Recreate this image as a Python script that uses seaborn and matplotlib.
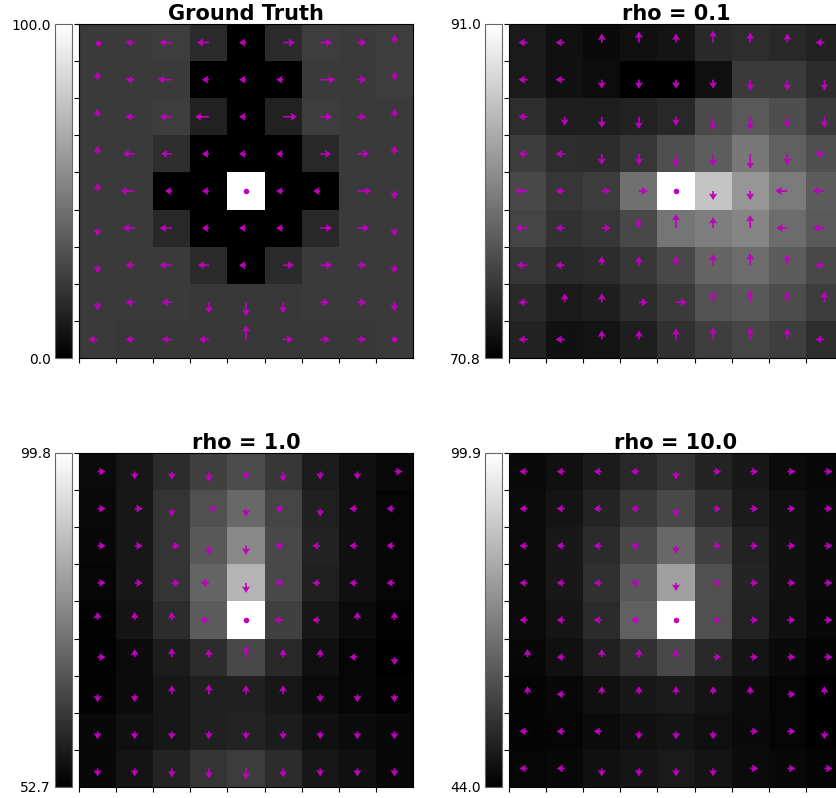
import numpy as np
import pandas as pd
import matplotlib
matplotlib.use("Agg")
import matplotlib.pyplot as plt
import seaborn as sns

titles = ["Ground Truth", "rho = 0.1", "rho = 1.0", "rho = 10.0"]

# cell values (row 0 = top row of the grid)
gt_values = [
    [23, 23, 24, 17, 0, 17, 24, 23, 24],
    [23, 23, 23, 0, 0, 0, 23, 23, 24],
    [23, 23, 24, 13, 0, 13, 24, 23, 23],
    [23, 23, 18, 0, 0, 0, 16, 23, 23],
    [23, 23, 0, 0, 100, 0, 0, 23, 23],
    [23, 23, 16, 0, 0, 0, 16, 23, 23],
    [23, 23, 23, 17, 0, 17, 23, 23, 23],
    [23, 23, 23, 22, 22, 22, 23, 23, 23],
    [23, 22, 22, 22, 22, 22, 22, 22, 23],
]
rho01_values = [
    [72.9, 72.1, 71.6, 72.1, 72.4, 74.1, 74.4, 74.0, 73.5],
    [72.9, 72.1, 71.8, 70.8, 70.8, 72.1, 75.4, 75.4, 74.3],
    [74.4, 73.2, 73.2, 73.5, 74.0, 76.7, 77.9, 77.0, 75.4],
    [75.6, 74.4, 74.3, 75.1, 77.1, 78.2, 80.3, 78.4, 77.1],
    [76.5, 75.1, 75.6, 79.7, 91.0, 86.3, 82.7, 80.5, 78.1],
    [76.2, 74.8, 75.1, 76.5, 80.1, 80.8, 81.3, 79.4, 77.9],
    [75.1, 74.1, 74.3, 75.2, 76.5, 78.7, 79.4, 78.1, 76.5],
    [74.1, 73.0, 73.3, 74.3, 75.4, 77.3, 77.8, 76.8, 75.6],
    [73.5, 72.2, 72.4, 73.2, 74.6, 75.7, 76.3, 75.7, 74.4],
]
rho1_values = [
    [54.9, 57.1, 60.8, 64.5, 66.7, 63.0, 57.9, 55.7, 54.5],
    [54.5, 57.1, 62.3, 67.5, 71.9, 65.3, 58.6, 55.7, 53.8],
    [54.2, 57.1, 62.3, 69.0, 77.8, 66.0, 59.0, 55.7, 53.8],
    [53.8, 57.1, 62.3, 71.2, 85.9, 66.0, 58.6, 55.7, 53.8],
    [53.4, 56.4, 60.8, 69.7, 99.8, 64.5, 57.1, 54.9, 53.4],
    [53.1, 54.9, 57.9, 60.8, 66.0, 60.1, 55.7, 53.8, 52.7],
    [53.4, 54.9, 57.1, 58.6, 58.6, 57.1, 54.9, 53.8, 53.1],
    [54.2, 55.7, 57.1, 58.6, 59.3, 57.9, 55.7, 54.9, 54.2],
    [54.2, 56.4, 59.3, 62.3, 63.8, 60.8, 57.1, 55.7, 54.2],
]
rho10_values = [
    [46.2, 47.5, 50.1, 52.8, 55.4, 51.9, 49.3, 46.6, 45.8],
    [46.6, 48.4, 51.9, 56.3, 59.8, 54.5, 50.1, 47.5, 46.2],
    [46.6, 49.3, 53.6, 59.8, 66.8, 58.0, 51.5, 47.9, 46.2],
    [46.6, 49.3, 54.5, 63.3, 79.1, 61.5, 51.9, 47.9, 46.2],
    [46.6, 48.8, 53.6, 65.0, 99.9, 61.5, 51.5, 47.5, 45.8],
    [45.8, 47.5, 51.0, 54.5, 59.8, 52.8, 48.4, 46.2, 44.9],
    [44.9, 45.8, 47.5, 49.3, 50.1, 48.4, 46.6, 45.3, 44.0],
    [44.9, 45.3, 46.6, 47.9, 48.4, 47.5, 46.2, 45.3, 44.4],
    [45.3, 45.8, 47.5, 48.8, 49.7, 48.4, 46.6, 45.8, 44.9],
]

# policy actions: L/R/U/D, o = stay
gt_actions = ["oLLLLRRRU", "ULLLLLRRU", "ULLLLRRRU", "ULLLLLRRU", "ULLLoLLRD",
              "DLLLLLRRD", "DLLLLRRRD", "DLLDDDRRD", "LLLLURRRo"]
rho01_actions = ["LLUUUUUUL", "LLDDDDDDD", "LDDDDDDDD", "LLDDDDDDL", "LLRRoDDLL",
                 "LLRUUUULL", "LLUUUUUUL", "LUURRUUUU", "LLUUUUUUL"]
rho1_actions = ["RDDDDDDDR", "RRDRDLDLL", "RRRDDLLLL", "RRRLDLLLL", "UUULoLLUU",
                "RUUUUUULD", "DDUUUUDDD", "DDDDDDDDD", "DDDDDDDDD"]
rho10_actions = ["LLLLDRRRR", "LLLLDRRRR", "LLLLDRRRR", "LLLLDRRRR", "LLLLoRRRR",
                 "ULUUURRRR", "ULUUUUURU", "LLLDDDRRD", "LLDDDDRRR"]

# arrow magnitudes
gt_mag = [
    [0, 9, 12, 12, 7, 12, 12, 9, 8],
    [8, 9, 14, 7, 7, 7, 15, 9, 8],
    [8, 9, 12, 14, 7, 14, 12, 9, 8],
    [8, 12, 11, 7, 7, 7, 11, 12, 8],
    [8, 14, 7, 7, 0, 7, 7, 14, 8],
    [8, 12, 12, 7, 7, 7, 12, 12, 8],
    [8, 9, 12, 11, 7, 11, 12, 9, 8],
    [8, 9, 10, 11, 14, 11, 9, 9, 9],
    [9, 9, 10, 10, 14, 10, 10, 9, 0],
]
rho01_mag = [
    [9, 9, 9, 11, 9, 12, 10, 9, 9],
    [9, 9, 9, 9, 9, 9, 11, 11, 11],
    [9, 9, 11, 12, 9, 13, 13, 11, 11],
    [9, 9, 11, 11, 13, 12, 15, 11, 9],
    [12, 9, 9, 9, 0, 9, 9, 12, 12],
    [12, 9, 9, 9, 14, 11, 13, 11, 11],
    [11, 9, 9, 9, 9, 11, 12, 11, 9],
    [9, 9, 9, 9, 11, 11, 12, 11, 11],
    [9, 9, 9, 9, 11, 12, 12, 11, 9],
]
rho1_mag = [
    [8, 8, 8, 10, 8, 10, 8, 8, 8],
    [8, 8, 8, 8, 8, 8, 8, 8, 8],
    [8, 8, 8, 9, 9, 8, 8, 8, 8],
    [8, 8, 8, 8, 10, 8, 8, 8, 8],
    [8, 8, 8, 9, 0, 9, 8, 8, 8],
    [8, 8, 9, 8, 11, 8, 8, 8, 8],
    [8, 8, 9, 10, 9, 9, 8, 8, 8],
    [8, 8, 8, 8, 8, 8, 8, 8, 8],
    [8, 8, 9, 10, 11, 9, 8, 8, 8],
]
rho10_mag = [[8] * 9 for _ in range(9)]
rho10_mag[4][4] = 0

panels = [
    (titles[0], gt_values, gt_actions, gt_mag),
    (titles[1], rho01_values, rho01_actions, rho01_mag),
    (titles[2], rho1_values, rho1_actions, rho1_mag),
    (titles[3], rho10_values, rho10_actions, rho10_mag),
]

W, H = 837, 798
fig = plt.figure(figsize=(W / 100, H / 100), dpi=100)


def rect(left, top, w, h):
    return [left / W, 1 - (top + h) / H, w / W, h / H]


corners = [(79, 24), (509, 24), (79, 453), (509, 453)]
step = {"L": (-1, 0), "R": (1, 0), "U": (0, -1), "D": (0, 1), "o": (0, 0)}

for (title, values, actions, mag), (x0, y0) in zip(panels, corners):
    ax = fig.add_axes(rect(x0, y0, 334, 334))
    cax = fig.add_axes(rect(x0 - 24, y0, 17, 334))
    df = pd.DataFrame(values)
    vmin, vmax = df.values.min(), df.values.max()
    sns.heatmap(df, ax=ax, cbar_ax=cax, cmap="gray", vmin=vmin, vmax=vmax,
                xticklabels=False, yticklabels=False)

    # policy arrows from each cell centre
    n = df.shape[0]
    X, Y = np.meshgrid(np.arange(n) + 0.5, np.arange(n) + 0.5)
    U = np.array([[step[a][0] for a in row] for row in actions]) * np.array(mag)
    V = np.array([[step[a][1] for a in row] for row in actions]) * np.array(mag)
    moving = np.array([[a != "o" for a in row] for row in actions])
    ax.quiver(X[moving], Y[moving], U[moving], V[moving], color="m",
              angles="xy", scale_units="xy", scale=37.1, pivot="tail",
              units="dots", width=1.7, headwidth=4.8, headlength=3.8,
              headaxislength=3.3, zorder=3)
    ax.scatter(X[~moving], Y[~moving], s=16, color="m", zorder=4, linewidths=0)

    ax.set_xticks(range(n))
    ax.set_yticks(range(n))
    ax.tick_params(labelbottom=False, labelleft=False, length=3.5, width=0.8)
    for s in ax.spines.values():
        s.set_visible(True)
        s.set_linewidth(0.8)
    ax.set_title(title, fontsize=15, fontweight="bold", pad=3)

    cbar = ax.collections[0].colorbar
    cbar.set_ticks([vmin, vmax])
    cbar.set_ticklabels([f"{vmin:.1f}", f"{vmax:.1f}"])
    cbar.ax.yaxis.set_ticks_position("left")
    cbar.ax.tick_params(length=0, pad=3, labelsize=10)
    cbar.outline.set_edgecolor("0.4")
    cbar.outline.set_linewidth(0.8)

fig.savefig("out.png", dpi=100)
